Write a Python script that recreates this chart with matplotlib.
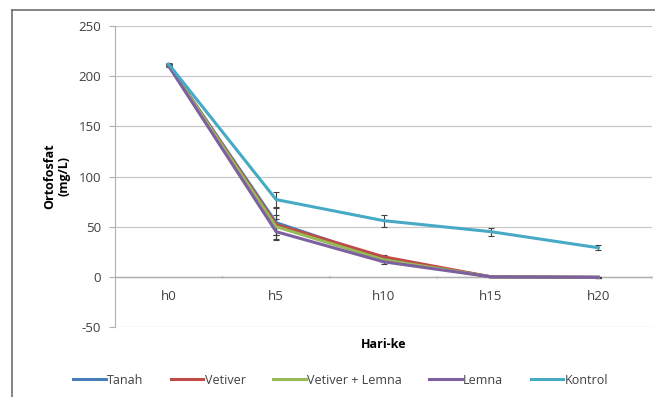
import matplotlib
matplotlib.use("Agg")
import matplotlib.pyplot as plt
from matplotlib.lines import Line2D

categories = ["h0", "h5", "h10", "h15", "h20"]
tanah = [211, 54, 18, 0, -0.5]
vetiver = [211, 52, 20, 0, -0.5]
vetiver_lemna = [211, 50, 17, 0, -0.5]
lemna = [210, 45, 15, 0, -0.5]
kontrol = [212, 77, 56, 45, 29]

err_tanah = [1, 16, 2, 0.5, 0.5]
err_vetiver = [1, 10, 2, 0.5, 0.5]
err_vl = [1, 8, 2, 0.5, 0.5]
err_lemna = [1, 8, 2, 0.5, 0.5]
err_kontrol = [1, 8, 6, 4, 2.5]

series_names = ["Tanah", "Vetiver", "Vetiver + Lemna", "Lemna", "Kontrol"]
colors = ["#4A7EBB", "#BE4B48", "#98B954", "#7D60A0", "#46AAC5"]
values = [tanah, vetiver, vetiver_lemna, lemna, kontrol]
errors = [err_tanah, err_vetiver, err_vl, err_lemna, err_kontrol]

plt.rcParams['font.family'] = ['Open Sans', 'DejaVu Sans']
plt.rcParams['axes.unicode_minus'] = False

fig = plt.figure(figsize=(6.55, 3.97), dpi=100)
fig.patch.set_facecolor("white")
W, H = 655, 397

# outer chart frame
fig.add_artist(Line2D([12 / W, 12 / W], [0, 1 - 10 / H], transform=fig.transFigure, color="#6F6F6F", lw=1.2))
fig.add_artist(Line2D([12 / W, 1], [1 - 10 / H, 1 - 10 / H], transform=fig.transFigure, color="#6F6F6F", lw=1.2))

ax = fig.add_axes([115 / W, 1 - 327 / H, (652 - 115) / W, (327 - 26) / H])
x = list(range(len(categories)))

for vals, errs, c, name in zip(values, errors, colors, series_names):
    ax.errorbar(x, vals, yerr=errs, color=c, lw=2.2, ecolor="#404040", elinewidth=0.8,
                capsize=2.5, capthick=0.8, label=name, zorder=3)

ax.set_xlim(-0.5, len(categories) - 0.5)
ax.set_ylim(-50, 250)
ax.set_yticks(range(-50, 251, 50))
ax.grid(axis="y", color="#C8C8C8", lw=0.9)
ax.set_axisbelow(True)
for s in ["top", "right", "bottom"]:
    ax.spines[s].set_visible(False)
ax.spines["left"].set_color("#B0B0B0")
ax.tick_params(axis="y", length=4, color="#B0B0B0", labelsize=9.5, labelcolor="#404040", pad=6)
ax.set_xticks([])

# category axis at y=0
ax.axhline(0, color="#B0B0B0", lw=1, zorder=1)
for b in [i + 0.5 for i in x]:
    ax.annotate("", xy=(b, 0), xytext=(0, -4), textcoords="offset pixels",
                arrowprops=dict(arrowstyle="-", color="#B0B0B0", lw=1))
for i, cat in enumerate(categories):
    ax.annotate(cat, xy=(i, 0), xytext=(0, -20), textcoords="offset pixels",
                ha="center", va="center", fontsize=9.5, color="#404040")

ax.set_xlabel("Hari-ke", fontsize=9, fontweight="bold", labelpad=8)
ax.set_ylabel("Ortofosfat\n(mg/L)", fontsize=9, fontweight="bold", labelpad=6, linespacing=1.1)

handles = [Line2D([], [], color=c, lw=2.2) for c in colors]
fig.legend(handles, series_names, loc="center", bbox_to_anchor=(0.52, 1 - 380 / H), ncol=5,
           frameon=False, fontsize=9, handlelength=2.6, handletextpad=0.1, columnspacing=2.2,
           labelcolor="#404040")

fig.savefig("out.png", dpi=100)
